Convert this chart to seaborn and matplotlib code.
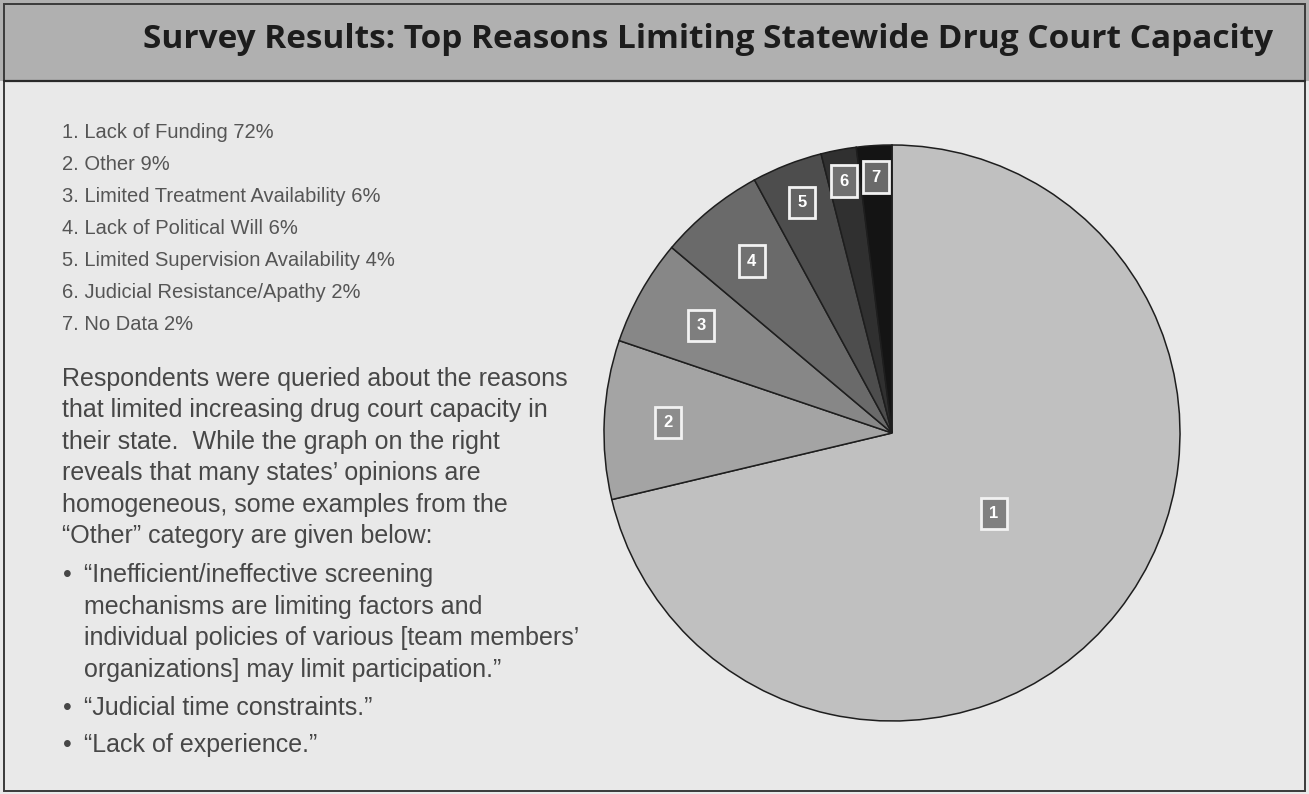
import matplotlib
matplotlib.use("Agg")
import math
import matplotlib.pyplot as plt
from matplotlib import font_manager
from matplotlib.patches import Rectangle
import seaborn as sns

# ---------------- data ----------------
categories = ["Lack of Funding", "Other", "Limited Treatment Availability",
              "Lack of Political Will", "Limited Supervision Availability",
              "Judicial Resistance/Apathy", "No Data"]
percents = [72, 9, 6, 6, 4, 2, 2]
slice_numbers = ["1", "2", "3", "4", "5", "6", "7"]

title_text = "Survey Results: Top Reasons Limiting Statewide Drug Court Capacity"
paragraph_lines = [
    "Respondents were queried about the reasons",
    "that limited increasing drug court capacity in",
    "their state.  While the graph on the right",
    "reveals that many states\u2019 opinions are",
    "homogeneous, some examples from the",
    "\u201cOther\u201d category are given below:",
]
bullet_items = [
    ["\u201cInefficient/ineffective screening",
     "mechanisms are limiting factors and",
     "individual policies of various [team members\u2019",
     "organizations] may limit participation.\u201d"],
    ["\u201cJudicial time constraints.\u201d"],
    ["\u201cLack of experience.\u201d"],
]

# ---------------- style ----------------
sns.set_theme(style="white")
plt.rcParams["font.family"] = ["Liberation Sans", "DejaVu Sans"]
avail = {f.name for f in font_manager.fontManager.ttflist}
title_family = ["Liberation Sans Narrow", "DejaVu Sans"] if "Liberation Sans Narrow" in avail else ["Open Sans", "DejaVu Sans"]

W, H = 1309, 794
BG = "#e9e9e9"
BAR = "#b0b0b0"
LIST_C = "#555555"
PARA_C = "#474747"
slice_colors = sns.blend_palette(["#c0c0c0", "#141414"], n_colors=len(percents))
box_colors = ["#808080", "#8c8c8c", "#7e7e7e", "#717171", "#636363", "#707070", "#6a6a6a"]
label_r = [0.45, 0.78, 0.76, 0.77, 0.86, 0.89, 0.89]

def fx(x):
    return x / W

def fy(y):
    return 1 - y / H

fig = plt.figure(figsize=(W / 100, H / 100), dpi=100)
fig.patch.set_facecolor(BG)

# title bar
fig.add_artist(Rectangle((0, fy(81)), 1, 1 - fy(81), transform=fig.transFigure,
                         facecolor=BAR, edgecolor="none", zorder=0))
fig.add_artist(plt.Line2D([fx(4), fx(1305)], [fy(81), fy(81)], transform=fig.transFigure,
                          color="#2a2a2a", lw=1.6))
fig.add_artist(Rectangle((fx(4), fy(791)), fx(1301), fy(4) - fy(791), transform=fig.transFigure,
                         facecolor="none", edgecolor="#3a3a3a", lw=1.4))
fig.text(fx(708), fy(40), title_text, ha="center", va="center", fontsize=24,
         fontweight="bold", color="#1c1c1c", family=title_family)

# numbered list
for i, (cat, pct) in enumerate(zip(categories, percents)):
    fig.text(fx(62), fy(132 + 32 * i), f"{slice_numbers[i]}. {cat} {pct}%",
             ha="left", va="center", fontsize=14.5, color=LIST_C)

# paragraph
for i, line in enumerate(paragraph_lines):
    fig.text(fx(62), fy(379 + 31.5 * i), line, ha="left", va="center",
             fontsize=18, color=PARA_C)

y = 575
for item in bullet_items:
    fig.text(fx(63), fy(y), "\u2022", ha="left", va="center", fontsize=18, color=PARA_C)
    for j, line in enumerate(item):
        fig.text(fx(84), fy(y), line, ha="left", va="center", fontsize=18, color=PARA_C)
        y += 31.7 if j < len(item) - 1 else 0
    y += 37.5

# pie
cx, cy, r = 892, 433, 288
ax = fig.add_axes([fx(cx - r), fy(cy + r), 2 * r / W, 2 * r / H])
wedges, _ = ax.pie(percents, colors=slice_colors, startangle=90, counterclock=False,
                   radius=1, wedgeprops=dict(edgecolor="#1e1e1e", linewidth=1.1))
ax.set_xlim(-1, 1)
ax.set_ylim(-1, 1)
ax.set_axis_off()
for i, w in enumerate(wedges):
    th = math.radians((w.theta1 + w.theta2) / 2)
    ax.text(label_r[i] * math.cos(th), label_r[i] * math.sin(th), slice_numbers[i],
            ha="center", va="center", fontsize=12, fontweight="bold", color="white",
            bbox=dict(boxstyle="square,pad=0.5", fc=box_colors[i], ec="#f2f2f2", lw=2))

fig.savefig("out.png", dpi=100, facecolor=fig.get_facecolor())
